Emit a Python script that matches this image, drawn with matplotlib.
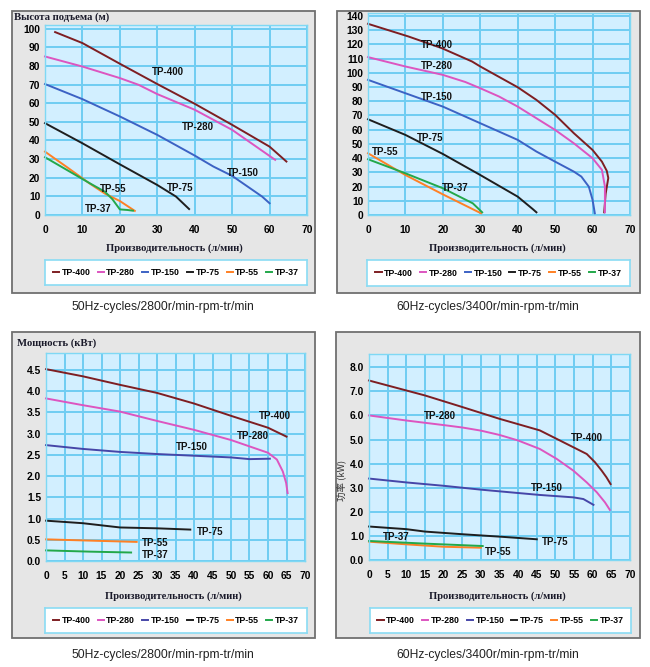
import matplotlib
matplotlib.use("Agg")
import matplotlib.pyplot as plt
from matplotlib.patches import Rectangle
from matplotlib.ticker import MultipleLocator, FormatStrFormatter

W, H = 650, 667

models = ["TP-400", "TP-280", "TP-150", "TP-75", "TP-55", "TP-37"]

# head curves, 50 Hz: (flow l/min, head m)
head_50 = {
    "TP-400": ([2.7, 10, 20, 30, 40, 50, 60, 64.5],
               [98.2, 92.3, 81.2, 70.3, 59.7, 48.4, 36.7, 28.7]),
    "TP-280": ([0, 10, 20, 25, 30, 40, 50, 61.5],
               [85.1, 79.7, 73.5, 69.9, 64.9, 56.5, 45.7, 29.6]),
    "TP-150": ([0, 10, 20, 30, 40, 45, 50, 58, 60],
               [70.3, 62.2, 52.9, 43, 31.9, 26, 21, 9.9, 6.3]),
    "TP-75": ([0, 10, 20, 30, 35, 38.5],
              [49.3, 38.5, 27.2, 16.1, 9.9, 3.2]),
    "TP-55": ([0, 6, 12, 16, 20, 24],
              [34, 25.5, 16.8, 11.5, 7.5, 2.2]),
    "TP-37": ([0, 6, 12, 16, 18, 20, 22, 23.5],
              [31, 24, 17, 12.5, 8.5, 3, 2.7, 2.3]),
}

# head curves, 60 Hz
head_60 = {
    "TP-400": ([0, 10.8, 19.7, 27.8, 30, 40, 45, 50, 55, 60, 62.5, 63.8, 64.2, 63.5, 63.1],
               [134.4, 125.5, 117.3, 107.9, 104.4, 89.8, 80.9, 70.4, 57.5, 45.7, 37.5, 31, 26, 15, 1.9]),
    "TP-280": ([0, 10, 20, 26, 30, 35, 40, 45, 50, 55, 60, 62.5, 63.3, 63.3],
               [111, 104.4, 98.5, 93.5, 89.1, 83.3, 76.2, 68, 59.8, 50.4, 39.9, 31.7, 20, 1.9]),
    "TP-150": ([0, 10, 20, 30, 40, 45, 50, 55, 57, 59, 60, 60.6],
               [95, 85.6, 76.2, 64.5, 52.8, 44.6, 37.5, 30.5, 27, 19.9, 10.6, 1.2]),
    "TP-75": ([0, 10, 20, 30, 40, 44, 45],
              [67.3, 56.3, 42.9, 28.1, 12.9, 4.2, 1.9]),
    "TP-55": ([0, 10, 20, 30.2],
              [43.4, 28.1, 14.5, 1.2]),
    "TP-37": ([0, 10, 20, 28, 30.5],
              [39.2, 29.3, 18.8, 8.2, 1.9]),
}

# power curves, 50 Hz: (flow l/min, power kW)
power_50 = {
    "TP-400": ([0, 10, 20, 30, 40, 50, 60, 65],
               [4.52, 4.35, 4.15, 3.96, 3.71, 3.42, 3.14, 2.93]),
    "TP-280": ([0, 10, 20, 30, 40, 50, 55, 60, 62.4, 64, 64.9, 65.3],
               [3.83, 3.67, 3.52, 3.3, 3.09, 2.85, 2.7, 2.55, 2.39, 2.11, 1.84, 1.6]),
    "TP-150": ([0, 10, 20, 30, 40, 50, 55, 60.5],
               [2.73, 2.64, 2.57, 2.52, 2.48, 2.44, 2.4, 2.41]),
    "TP-75": ([0, 10, 20, 30, 39],
              [0.95, 0.89, 0.79, 0.77, 0.74]),
    "TP-55": ([0, 12, 24.5],
              [0.51, 0.48, 0.45]),
    "TP-37": ([0, 12, 23],
              [0.25, 0.22, 0.2]),
}

# power curves, 60 Hz
power_60 = {
    "TP-400": ([0, 15, 25, 35, 45.8, 54.8, 58.4, 60.6, 62.4, 63.7, 64.8],
               [7.45, 6.83, 6.35, 5.86, 5.38, 4.68, 4.4, 4.06, 3.71, 3.43, 3.15]),
    "TP-280": ([0, 10, 20, 25, 30, 35, 40, 45.8, 50.3, 54.8, 58.4, 61.1, 63.3, 64.6],
               [6.0, 5.79, 5.6, 5.5, 5.37, 5.19, 4.96, 4.61, 4.2, 3.71, 3.22, 2.81, 2.39, 2.08]),
    "TP-150": ([0, 10, 20, 30, 40, 45.8, 54.8, 57.5, 60.2],
               [3.38, 3.22, 3.08, 2.92, 2.78, 2.7, 2.6, 2.53, 2.29]),
    "TP-75": ([0, 10, 15, 25, 35, 45],
              [1.39, 1.28, 1.18, 1.07, 0.97, 0.86]),
    "TP-55": ([0, 10, 20, 30],
              [0.76, 0.65, 0.55, 0.51]),
    "TP-37": ([0, 15, 30.5],
              [0.79, 0.68, 0.58]),
}

# where the model names sit on each chart
labels_head_50 = {"TP-400": (32.9, 77), "TP-280": (40.9, 47), "TP-150": (52.9, 22.4),
                  "TP-75": (36, 14.7), "TP-55": (18.2, 13.8), "TP-37": (14.2, 3)}
labels_head_60 = {"TP-400": (18.4, 119.6), "TP-280": (18.4, 104.8), "TP-150": (18.4, 83.3),
                  "TP-75": (16.6, 53.9), "TP-55": (4.6, 44.6), "TP-37": (23.3, 19.2)}
labels_power_50 = {"TP-400": (61.9, 3.42), "TP-280": (56, 2.94), "TP-150": (39.4, 2.68),
                   "TP-75": (44.4, 0.69), "TP-55": (29.5, 0.43), "TP-37": (29.5, 0.15)}
labels_power_60 = {"TP-400": (58.4, 5.07), "TP-280": (19, 5.97), "TP-150": (47.6, 3.0),
                   "TP-75": (49.9, 0.75), "TP-37": (7.3, 0.97), "TP-55": (34.6, 0.35)}

colors_top = {"TP-400": "#7e1e22", "TP-280": "#dd55c0", "TP-150": "#3c62c4",
              "TP-75": "#1e1e1e", "TP-55": "#ff8024", "TP-37": "#23a84a"}
colors_bot = dict(colors_top, **{"TP-150": "#4646a8"})

caption_50 = "50Hz-cycles/2800r/min-rpm-tr/min"
caption_60 = "60Hz-cycles/3400r/min-rpm-tr/min"
xlabel = "Производительность (л/мин)"

fig = plt.figure(figsize=(6.5, 6.67), dpi=100)
fig.patch.set_facecolor("white")


def rect(x0, y0, x1, y1):
    return [x0 / W, 1 - y1 / H, (x1 - x0) / W, (y1 - y0) / H]


def fx(x):
    return x / W


def fy(y):
    return 1 - y / H


def panel(box, area, leg, data, names, colors, ylim, ystep, xstep, yfmt,
          xlab_y, caption, cap_x, cap_y):
    fig.patches.append(Rectangle((fx(box[0]), fy(box[3])), (box[2] - box[0]) / W,
                                 (box[3] - box[1]) / H, transform=fig.transFigure,
                                 facecolor="#e6e6e6", edgecolor="#707070", lw=1.3, zorder=-5))
    ax = fig.add_axes(rect(*area))
    ax.set_facecolor("#d2efff")
    ax.set_xlim(0, 70)
    ax.set_ylim(*ylim)
    ax.xaxis.set_major_locator(MultipleLocator(xstep))
    ax.yaxis.set_major_locator(MultipleLocator(ystep))
    ax.yaxis.set_major_formatter(FormatStrFormatter(yfmt))
    ax.grid(True, color="#6fcdf2", lw=1.4)
    ax.set_axisbelow(True)
    for s in ax.spines.values():
        s.set_color("#7fd8f4")
        s.set_linewidth(1.0)
    ax.tick_params(length=0, labelsize=7.4)
    ax.tick_params(axis="x", pad=7)
    ax.tick_params(axis="y", pad=3.5)
    for t in ax.get_xticklabels() + ax.get_yticklabels():
        t.set_fontweight("bold")
        t.set_family("Liberation Sans")
    handles = []
    for m in models:
        q, v = data[m]
        ln, = ax.plot(q, v, color=colors[m], lw=1.4, label=m, clip_on=False)
        handles.append(ln)
        lx, ly = names[m]
        ax.text(lx, ly, m, ha="center", va="center", fontsize=7.0, fontweight="bold",
                family="Liberation Sans", color="#111111")
    fig.text(fx((area[0] + area[2]) / 2 - 2), fy(xlab_y), xlabel, ha="center", va="center",
             fontsize=7.6, fontweight="bold", family="Liberation Serif", color="#1a1a2a")
    lax = fig.add_axes(rect(*leg))
    lax.set_xticks([])
    lax.set_yticks([])
    lax.set_facecolor("white")
    for s in lax.spines.values():
        s.set_color("#8adcf4")
        s.set_linewidth(1.2)
    lax.legend(handles=handles, loc="center", ncol=6, frameon=False,
               handlelength=0.7, handletextpad=0.3, columnspacing=0.8,
               prop={"family": "Liberation Sans", "weight": "bold", "size": 6.3})
    fig.text(fx(cap_x), fy(cap_y), caption, ha="center", va="center", fontsize=8.7,
             family="Liberation Sans", color="#222222")
    return ax


panel((12, 11, 315, 293), (45, 25, 307, 215), (45, 260, 307, 285), head_50,
      labels_head_50, colors_top, (0, 102), 10, 10, "%d", 248, caption_50, 163, 307)
panel((337, 11, 640, 293), (368, 13, 630, 215), (367, 260, 630, 286), head_60,
      labels_head_60, colors_top, (0, 142), 10, 10, "%d", 248, caption_60, 488, 307)
panel((12, 332, 315, 638), (46, 353, 305, 561), (45, 608, 307, 633), power_50,
      labels_power_50, colors_bot, (0, 4.9), 0.5, 5, "%.1f", 596, caption_50, 163, 655)
panel((336, 332, 640, 638), (369, 354, 630, 560), (370, 608, 631, 633), power_60,
      labels_power_60, colors_bot, (0, 8.55), 1, 5, "%.1f", 596, caption_60, 488, 655)

fig.text(fx(14), fy(17), "Высота подъема (м)", ha="left", va="center", fontsize=7.7,
         fontweight="bold", family="Liberation Serif", color="#1a1a2a")
fig.text(fx(17), fy(343), "Мощность (кВт)", ha="left", va="center", fontsize=7.7,
         fontweight="bold", family="Liberation Serif", color="#1a1a2a")
fig.text(fx(341), fy(480), "功率 (kW)", ha="center", va="center", rotation=90,
         fontsize=6.8, family=["Noto Sans CJK SC", "DejaVu Sans"], color="#333333")

fig.savefig("out.png", dpi=100, facecolor="white")
